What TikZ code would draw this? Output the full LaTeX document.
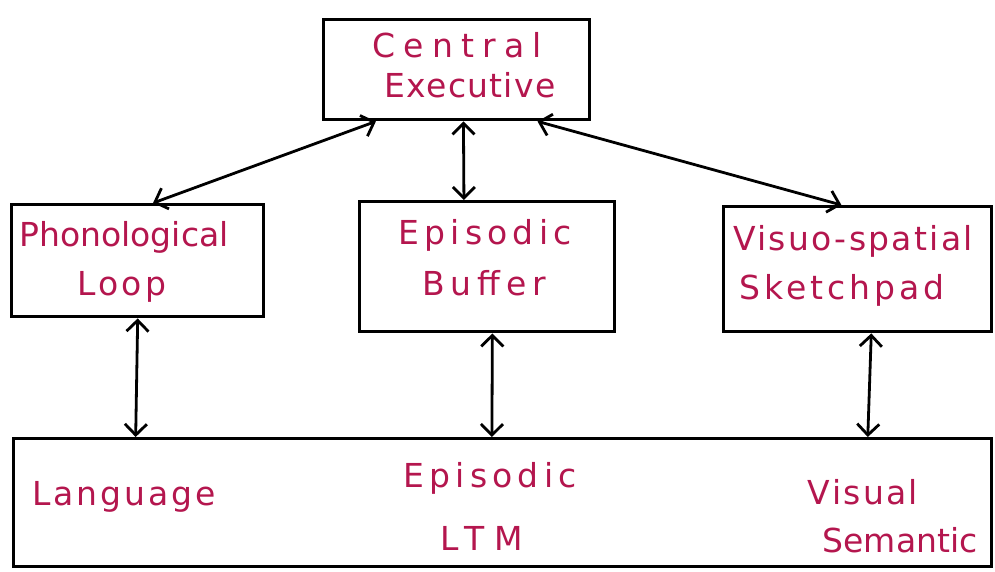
\documentclass[tikz,border=0pt]{standalone}
\usepackage{fontspec}
\setmainfont{DejaVu Sans}
\usetikzlibrary{arrows.meta,calc}
\definecolor{ink}{RGB}{180,22,78}
\begin{document}
\begin{tikzpicture}[x=1pt,y=-1pt,
 box/.style={draw=black,line width=3.4pt,inner sep=0pt,anchor=north west},
 lbl/.style={text=ink,font=\fontsize{33}{38}\selectfont\addfontfeature{LetterSpace=#1},inner sep=0pt},
 lbl/.default=0,
 tip/.tip={Straight Barb[length=11pt,width=22pt,line width=2.8pt]},
 link/.style={line width=2.8pt,tip-tip}]
\useasboundingbox[fill=white] (0,0) rectangle (995,571);
% boxes
\node[box,minimum width=266pt,minimum height=100pt] (ce) at (322,18) {};
\node[box,minimum width=252pt,minimum height=112pt] (pl) at (10,203) {};
\node[box,minimum width=255pt,minimum height=130pt] (eb) at (358,200) {};
\node[box,minimum width=268pt,minimum height=125pt] (vs) at (722,205) {};
\node[box,minimum width=978pt,minimum height=128pt] (ltm) at (12,437) {};
% labels
\node[lbl=25] (ce1) at (457,45) {Central};
\node[lbl=4] (ce2) at (470,85) {Executive};
\node[lbl] (pl1) at (124,237) {Phonological};
\node[lbl=9] (pl2) at (122,287) {Loop};
\node[lbl=16] (eb1) at (485,235) {Episodic};
\node[lbl=18] (eb2) at (484,283) {Buffer};
\node[lbl=7] (vs1) at (853,241) {Visuo-spatial};
\node[lbl=12] (vs2) at (842,290) {Sketchpad};
\node[lbl=9] (lt1) at (124,497) {Language};
\node[lbl=16] (lt2) at (490,478) {Episodic};
\node[lbl=30] (lt3) at (482,538) {LTM};
\node[lbl=7] (lt4) at (863,492) {Visual};
\node[lbl] (lt5) at (900,540) {Semantic};
% connectors
\draw[link] ($(ce.south west)!0.2!(ce.south east)$) -- ($(pl.north west)!0.56!(pl.north east)$);
\draw[link] ($(ce.south west)!0.525!(ce.south east)$) -- ($(eb.north west)!0.41!(eb.north east)$);
\draw[link] ($(ce.south west)!0.8!(ce.south east)$) -- ($(vs.north west)!0.44!(vs.north east)$);
\draw[link] ($(pl.south west)!0.5!(pl.south east)$) -- ($(ltm.north west)!0.126!(ltm.north east)$);
\draw[link] ($(eb.south west)!0.52!(eb.south east)$) -- ($(ltm.north west)!0.489!(ltm.north east)$);
\draw[link] ($(vs.south west)!0.55!(vs.south east)$) -- ($(ltm.north west)!0.872!(ltm.north east)$);
\end{tikzpicture}
\end{document}
